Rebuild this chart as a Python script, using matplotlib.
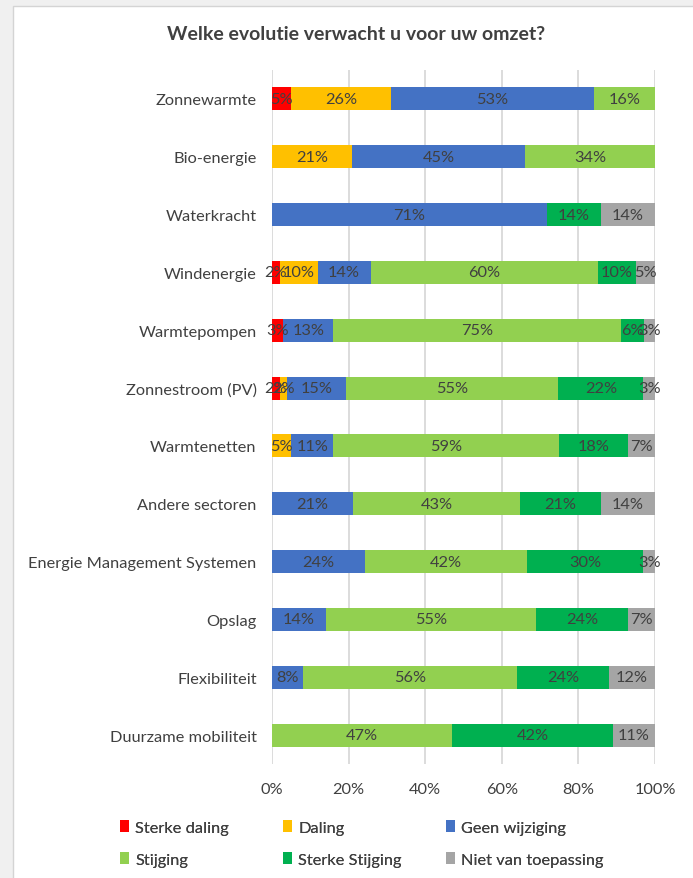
import matplotlib
matplotlib.use("Agg")
import matplotlib.pyplot as plt
import matplotlib.ticker as m_tick
from matplotlib.patches import Rectangle, Patch
import numpy as np

plt.rcParams['font.family'] = ['Lato', 'DejaVu Sans']

title = "Welke evolutie verwacht u voor uw omzet?"

categories = [
    "Zonnewarmte", "Bio-energie", "Waterkracht", "Windenergie", "Warmtepompen",
    "Zonnestroom (PV)", "Warmtenetten", "Andere sectoren",
    "Energie Management Systemen", "Opslag", "Flexibiliteit", "Duurzame mobiliteit",
]

series_names = ["Sterke daling", "Daling", "Geen wijziging", "Stijging",
                "Sterke Stijging", "Niet van toepassing"]
series_colors = ["#FF0000", "#FFC000", "#4472C4", "#92D050", "#00B050", "#A5A5A5"]

# percentages per category, as shown in the data labels
sterke_daling = [5, 0, 0, 2, 3, 2, 0, 0, 0, 0, 0, 0]
daling = [26, 21, 0, 10, 0, 2, 5, 0, 0, 0, 0, 0]
geen_wijziging = [53, 45, 71, 14, 13, 15, 11, 21, 24, 14, 8, 0]
stijging = [16, 34, 0, 60, 75, 55, 59, 43, 42, 55, 56, 47]
sterke_stijging = [0, 0, 14, 10, 6, 22, 18, 21, 30, 24, 24, 42]
niet_van_toepassing = [0, 0, 14, 5, 3, 3, 7, 14, 3, 7, 12, 11]

x_ticks = [0, 0.2, 0.4, 0.6, 0.8, 1.0]

TEXT = "#404040"
GRID = "#D9D9D9"
FS = 11.8


def main():
    values = np.array([sterke_daling, daling, geen_wijziging, stijging,
                       sterke_stijging, niet_van_toepassing], dtype=float)
    shares = values / values.sum(axis=0)

    fig = plt.figure(figsize=(6.93, 8.79), dpi=100, facecolor="#F0F0F0")
    fig.patches.append(Rectangle((13 / 693, -0.01), 1.0, 1 - 7 / 879 + 0.01,
                                 transform=fig.transFigure, facecolor="white",
                                 edgecolor="#D4D4D4", linewidth=1.0, zorder=-10))

    ax = fig.add_axes([272 / 693, 114 / 879, 383 / 693, 694 / 879])
    ax.set_facecolor("white")

    y = np.arange(len(categories))
    left = np.zeros(len(categories))
    for name, color, share, vals in zip(series_names, series_colors, shares, values):
        bars = ax.barh(y, share, left=left, height=0.4, color=color, label=name, zorder=2)
        for rect, v in zip(bars, vals):
            if v > 0:
                ax.text(rect.get_x() + rect.get_width() / 2, rect.get_y() + rect.get_height() / 2,
                        f"{int(v)}%", ha="center", va="center", fontsize=FS,
                        color=TEXT, zorder=3)
        left += share

    ax.set_ylim(len(categories) - 0.5, -0.5)
    ax.set_xlim(0, 1)
    ax.set_yticks(y)
    ax.set_yticklabels(categories, fontsize=FS, color=TEXT)
    ax.set_xticks(x_ticks)
    ax.xaxis.set_major_formatter(m_tick.PercentFormatter(xmax=1, decimals=0))
    ax.tick_params(axis="x", labelsize=FS, labelcolor=TEXT, length=0, pad=13)
    ax.tick_params(axis="y", length=0, pad=11)
    ax.grid(axis="x", color=GRID, linewidth=1.3, zorder=0)
    for spine in ax.spines.values():
        spine.set_visible(False)

    fig.text(0.514, 1 - 35 / 879, title, ha="center", va="center",
             fontsize=14, fontweight="bold", color=TEXT)

    # legend: three columns of two entries, equally spaced like the original
    handles = [Patch(facecolor=c, edgecolor="none") for c in series_colors]
    col_x = [105, 268, 431]
    for col, x0 in enumerate(col_x):
        idx = [col, col + 3]
        leg = fig.legend([handles[i] for i in idx], [series_names[i] for i in idx],
                         loc="upper left", bbox_to_anchor=(x0 / 693, 1 - 806 / 879),
                         frameon=False, fontsize=FS, handlelength=0.55, handleheight=0.8,
                         handletextpad=0.4, labelspacing=1.05, labelcolor=TEXT)
        fig.add_artist(leg)

    fig.savefig("out.png", dpi=100, facecolor=fig.get_facecolor())


if __name__ == '__main__':
    main()
